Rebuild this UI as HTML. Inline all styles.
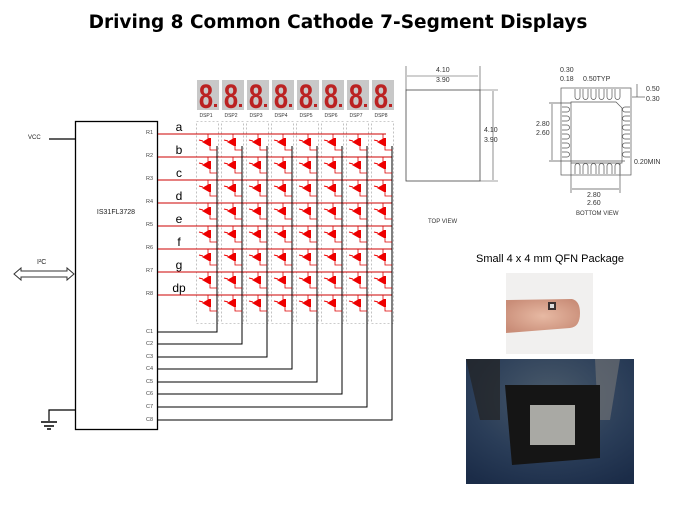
<!DOCTYPE html>
<html><head><meta charset="utf-8"><style>
html,body{margin:0;padding:0;background:#fff;width:675px;height:506px;overflow:hidden}
svg{display:block}
text{font-family:"Liberation Sans",sans-serif}
</style></head><body>
<svg id="s" width="675" height="506" viewBox="0 0 675 506" xmlns="http://www.w3.org/2000/svg">
<text x="338" y="28" text-anchor="middle" font-size="18.5" font-weight="bold" fill="#000" style="font-family:'DejaVu Sans',sans-serif">Driving 8 Common Cathode 7-Segment Displays</text>
<rect x="75.5" y="121.5" width="82" height="308" fill="none" stroke="#000" stroke-width="1.3"/>
<text x="116" y="214" text-anchor="middle" font-size="7" fill="#222">IS31FL3728</text>
<text x="28" y="139" font-size="6" fill="#222">VCC</text>
<line x1="49" y1="139" x2="75" y2="139" stroke="#000" stroke-width="1.2"/>
<text x="37" y="264" font-size="7" fill="#222">I²C</text>
<path d="M14,274 L21,268 L21,271 L67,271 L67,268 L74,274 L67,280 L67,277 L21,277 L21,280 Z" fill="#fff" stroke="#333" stroke-width="1"/>
<path d="M75,410 L49,410 L49,421" fill="none" stroke="#000" stroke-width="1.2"/>
<line x1="41" y1="422" x2="57" y2="422" stroke="#000" stroke-width="1.5"/>
<line x1="44" y1="426" x2="54" y2="426" stroke="#000" stroke-width="1.5"/>
<line x1="47" y1="429" x2="51" y2="429" stroke="#000" stroke-width="1.5"/>
<g font-size="5.5" fill="#444">
<text x="146" y="134">R1</text><text x="146" y="157">R2</text><text x="146" y="180">R3</text><text x="146" y="203">R4</text>
<text x="146" y="226">R5</text><text x="146" y="249">R6</text><text x="146" y="272">R7</text><text x="146" y="295">R8</text>
<text x="146" y="333">C1</text><text x="146" y="345">C2</text><text x="146" y="358">C3</text><text x="146" y="370">C4</text>
<text x="146" y="383">C5</text><text x="146" y="395">C6</text><text x="146" y="408">C7</text><text x="146" y="421">C8</text>
</g>
<g font-size="12" fill="#000" text-anchor="middle">
<text x="179" y="131">a</text><text x="179" y="154">b</text><text x="179" y="177">c</text><text x="179" y="200">d</text>
<text x="179" y="223">e</text><text x="179" y="246">f</text><text x="179" y="269">g</text><text x="179" y="292">dp</text>
</g>
<g font-size="5" fill="#333" text-anchor="middle">
<text x="206" y="117">DSP1</text><text x="231" y="117">DSP2</text><text x="256" y="117">DSP3</text><text x="281" y="117">DSP4</text>
<text x="306" y="117">DSP5</text><text x="331" y="117">DSP6</text><text x="356" y="117">DSP7</text><text x="381" y="117">DSP8</text>
</g>
<g id="grid"></g>
<rect x="406" y="90" width="74" height="91" fill="none" stroke="#444" stroke-width="0.8"/>
<g stroke="#444" stroke-width="0.6" fill="none">
<line x1="406" y1="66" x2="406" y2="90"/><line x1="480" y1="66" x2="480" y2="90"/>
<line x1="407" y1="76" x2="478" y2="76"/>
<line x1="480" y1="90" x2="498" y2="90"/><line x1="480" y1="181" x2="498" y2="181"/>
<line x1="493" y1="91" x2="493" y2="180"/>
</g>
<g font-family="Liberation Serif" font-size="7" fill="#333">
<text x="436" y="72">4.10</text><text x="436" y="82">3.90</text>
<text x="484" y="132">4.10</text><text x="484" y="142">3.90</text>
<text x="428" y="223" font-size="6">TOP VIEW</text>
<text x="560" y="72">0.30</text><text x="560" y="81">0.18</text><text x="583" y="81">0.50TYP</text>
<text x="646" y="91">0.50</text><text x="646" y="101">0.30</text>
<text x="536" y="126">2.80</text><text x="536" y="135">2.60</text>
<text x="634" y="164">0.20MIN</text>
<text x="587" y="197">2.80</text><text x="587" y="205">2.60</text>
<text x="576" y="215" font-size="6">BOTTOM VIEW</text>
</g>
<g stroke="#555" stroke-width="0.7" fill="none">
<rect x="561" y="88" width="70" height="87"/>
<path d="M571,102 L616,102 L622,108 L622,163 L571,163 Z"/>
<line x1="549" y1="103" x2="571" y2="103"/><line x1="549" y1="161" x2="625" y2="161"/>
<line x1="552" y1="104" x2="552" y2="160"/>
<line x1="571" y1="163" x2="571" y2="193"/><line x1="620" y1="163" x2="620" y2="193"/>
<line x1="572" y1="189" x2="619" y2="189"/>
<line x1="637" y1="84" x2="637" y2="97"/><line x1="632" y1="97" x2="645" y2="97"/>
</g>
<g id="pads" stroke="#555" stroke-width="0.7" fill="none"></g>
<text x="550" y="262" text-anchor="middle" font-size="11" fill="#000">Small 4 x 4 mm QFN Package</text>
<defs>
<radialGradient id="fg" cx="0.5" cy="0.5" r="0.6"><stop offset="0" stop-color="#e7b9a3"/><stop offset="1" stop-color="#c98d78"/></radialGradient>
<radialGradient id="cg" cx="0.5" cy="0.3" r="0.8"><stop offset="0" stop-color="#4a5a6a"/><stop offset="0.6" stop-color="#2a3d58"/><stop offset="1" stop-color="#1b2c48"/></radialGradient>
</defs>
<rect x="506" y="273" width="87" height="81" fill="#f1f0ef"/>
<path d="M506,300 L572,299 Q580,301 580,313 Q580,327 570,328 L506,333 Z" fill="url(#fg)"/>
<rect x="548" y="302" width="8" height="8" fill="#3a3030"/><rect x="550" y="304" width="4" height="4" fill="#ddd"/>
<rect x="466" y="359" width="168" height="125" fill="url(#cg)"/>
<path d="M466,359 L500,359 L500,420 L480,420 Z" fill="#222" opacity="0.7"/>
<path d="M595,359 L620,359 L610,420 L598,420 Z" fill="#777" opacity="0.6"/>
<path d="M505,385 L600,385 L600,458 L512,465 Z" fill="#151515"/>
<rect x="530" y="405" width="45" height="40" fill="#a9a9a4"/>
</svg>
<script>
var g=document.getElementById('grid'),h='';
var ry=[134,157,180,203,226,249,272,295],cy=[332,344,357,369,382,394,407,420];
for(var i=0;i<8;i++){var x0=197+i*25;
 h+='<rect x="'+x0+'" y="80" width="22" height="30" fill="#c8c8c8"/>';
 h+='<text x="'+(x0+9)+'" y="108" text-anchor="middle" font-size="34" font-weight="bold" fill="#b22" transform="translate('+(x0+9)+',0) scale(0.75,1) translate('+(-(x0+9))+',0)">8</text>';
 h+='<rect x="'+(x0+17)+'" y="104" width="3" height="3" fill="#b22"/>';
 h+='<rect x="'+(x0-0.5)+'" y="121.5" width="22" height="202" fill="none" stroke="#999" stroke-width="0.6" stroke-dasharray="2,2"/>';}
for(var r=0;r<8;r++){h+='<line x1="158" y1="'+ry[r]+'" x2="'+(r==0?386:392)+'" y2="'+ry[r]+'" stroke="#c00" stroke-width="1"/>';}
for(var i=0;i<8;i++){var cx=217+i*25;
 h+='<path d="M158,'+cy[i]+' L'+cx+','+cy[i]+' L'+cx+',146" fill="none" stroke="#000" stroke-width="1"/>';
 for(var r=0;r<8;r++){var lx=197+i*25+10,ly=ry[r]+8;
  h+='<path d="M'+(lx+1)+','+ry[r]+' L'+(lx+1)+','+(ly-2)+'" stroke="#d00" stroke-width="0.8"/>';
  h+='<path d="M'+(lx-5)+','+ly+' L'+(lx+2)+','+(ly-4)+' L'+(lx+2)+','+(ly+4)+' Z" fill="#e00"/>';
  h+='<rect x="'+(lx+2)+'" y="'+(ly-4)+'" width="2" height="8" fill="#e00"/>';
  h+='<path d="M'+(lx+3)+','+(ly+4)+' L'+(lx+3)+','+(ly+8)+' L'+cx+','+(ly+8)+'" fill="none" stroke="#d00" stroke-width="0.8"/>';
  h+='<line x1="'+(lx-8)+'" y1="'+(ly-2)+'" x2="'+(lx-4)+'" y2="'+(ly-1)+'" stroke="#e00" stroke-width="1"/>';}}
g.innerHTML=h;
var p='';for(var k=0;k<6;k++){var px=575+k*8;
 p+='<path d="M'+px+',89 L'+px+',97 A2.5,2.5 0 0 0 '+(px+5)+',97 L'+(px+5)+',89"/>';
 p+='<path d="M'+px+',174 L'+px+',166 A2.5,2.5 0 0 1 '+(px+5)+',166 L'+(px+5)+',174"/>';
 var py=107+k*9;
 p+='<path d="M562,'+py+' L567,'+py+' A2.5,2.5 0 0 1 567,'+(py+5)+' L562,'+(py+5)+'"/>';
 p+='<path d="M630,'+py+' L625,'+py+' A2.5,2.5 0 0 0 625,'+(py+5)+' L630,'+(py+5)+'"/>';}
document.getElementById('pads').innerHTML=p;
</script>
</body></html>
